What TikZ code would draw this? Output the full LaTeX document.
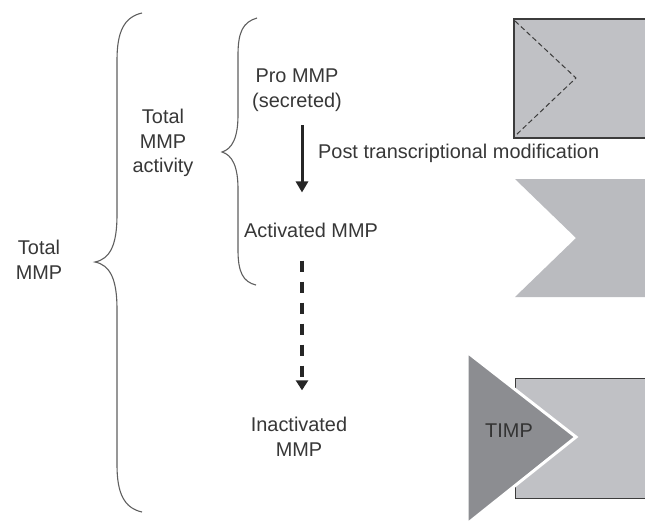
\documentclass[tikz,border=0pt]{standalone}
\usepackage{fontspec}
\setmainfont{Liberation Sans}
\usetikzlibrary{arrows.meta}
\definecolor{txt}{RGB}{55,55,55}
\definecolor{bracec}{RGB}{95,95,95}
\definecolor{fillA}{RGB}{192,193,197}
\definecolor{fillB}{RGB}{186,187,191}
\definecolor{fillT}{RGB}{140,141,145}
\definecolor{edge}{RGB}{60,60,60}
\tikzset{
  lbl/.style={text=txt, inner sep=0pt, align=center, font=\fontsize{19.9}{24.5}\selectfont},
  bracepath/.style={draw=bracec, line width=1.1pt},
  solidarr/.style={draw=black!85, line width=3pt, -{Triangle[width=12pt,length=11pt]}},
  dasharr/.style={draw=black!85, line width=4pt, dash pattern=on 11pt off 10pt, -{Triangle[width=12pt,length=10pt]}}
}
\begin{document}
\begin{tikzpicture}[x=1pt,y=-1pt]
\useasboundingbox (0,0) rectangle (645,523);
% braces
\draw[bracepath] (142,13) .. controls (124,17) and (117,32) .. (117,60) -- (117,215)
  .. controls (117,245) and (110,259) .. (95,262)
  .. controls (110,265) and (117,279) .. (117,309) -- (117,465)
  .. controls (117,493) and (124,508) .. (142,512);
\draw[bracepath] (257,18) .. controls (243,22) and (238,32) .. (238,55) -- (238,115)
  .. controls (238,138) and (232,149) .. (222,152)
  .. controls (232,155) and (238,166) .. (238,189) -- (238,250)
  .. controls (238,272) and (243,282) .. (256,285);
% labels
\node[lbl] (tmmp) at (39,260) {Total\\MMP};
\node[lbl] (tact) at (163,143) {Total\\MMP\\activity};
\node[lbl] (pro) at (297,90) {Pro MMP\\(secreted)};
\node[lbl] (act) at (311,230) {Activated MMP};
\node[lbl] (inact) at (299,437) {Inactivated\\MMP};
\node[lbl, anchor=west] (ptm) at (318,153) {Post transcriptional modification};
\coordinate (ax) at (302,0);
% arrows
\draw[solidarr, shorten <=14pt, shorten >=30pt] (pro.south -| ax) -- (act.north -| ax);
\draw[dasharr, shorten <=23pt, shorten >=27pt] (act.south -| ax) -- (inact.north -| ax);
% top shape
\fill[fillA] (514,19) rectangle (646,138);
\draw[edge, line width=2pt] (646,19) -- (514,19) -- (514,138) -- (646,138);
\draw[edge, line width=1pt, dash pattern=on 5pt off 3pt] (515,21) -- (576,78) -- (515,136);
% middle shape
\fill[fillB] (515,179) -- (646,179) -- (646,297) -- (515,297) -- (576,238) -- cycle;
% bottom shape
\fill[fillA] (515,378) rectangle (646,498);
\draw[edge, line width=1pt] (646,378) -- (515,378) -- (515,498) -- (646,498);
\filldraw[fill=fillT, draw=white, line width=3pt, line join=miter] (467,352) -- (576,437) -- (467,524) -- cycle;
\node[lbl, text=black!80] (timp) at (509,431) {TIMP};
\end{tikzpicture}
\end{document}
